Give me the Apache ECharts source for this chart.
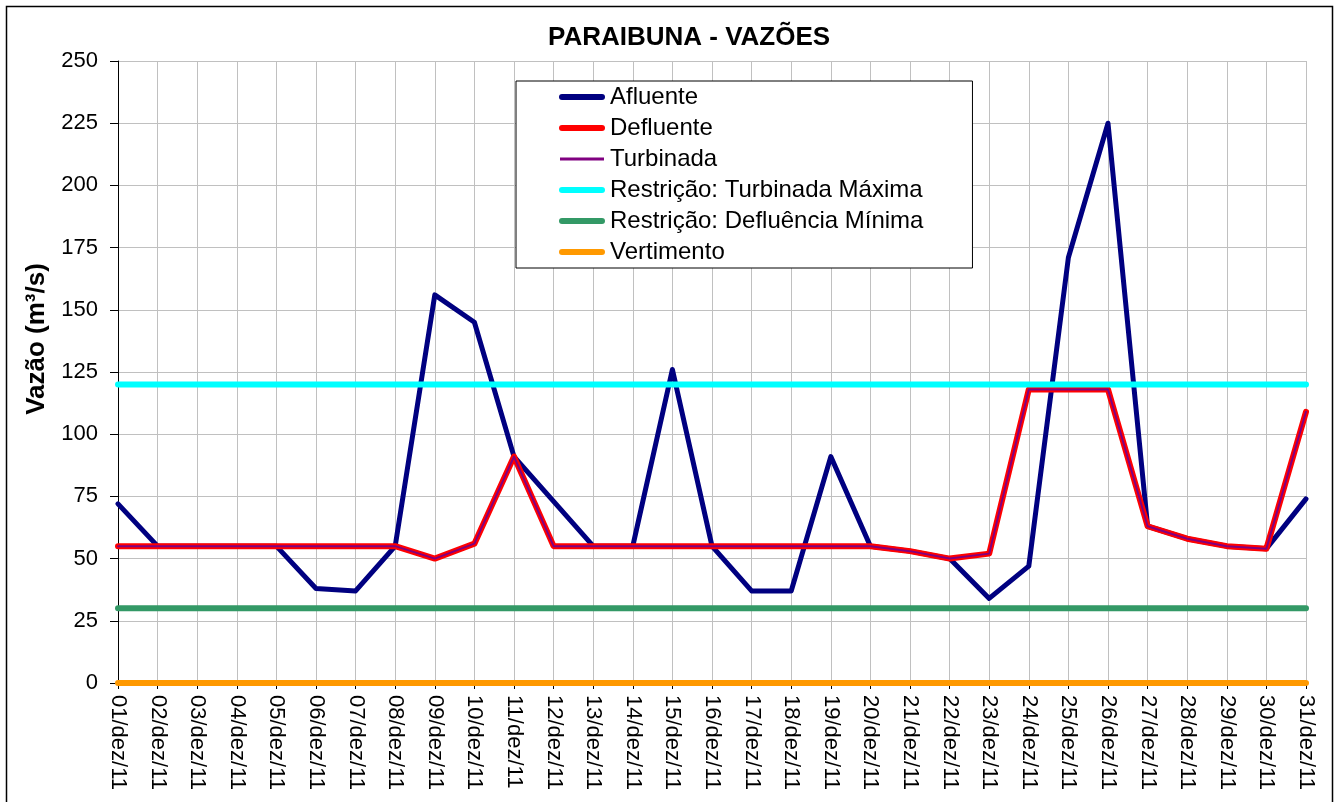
<!DOCTYPE html>
<html><head><meta charset="utf-8">
<script src="https://cdn.jsdelivr.net/npm/echarts@6/dist/echarts.min.js"></script>
<style>html,body{margin:0;padding:0;background:#fff}#c{width:1338px;height:802px}</style>
</head><body><div id="c"></div>
<script>
const categories = ["01/dez/11","02/dez/11","03/dez/11","04/dez/11","05/dez/11","06/dez/11","07/dez/11","08/dez/11","09/dez/11","10/dez/11","11/dez/11","12/dez/11","13/dez/11","14/dez/11","15/dez/11","16/dez/11","17/dez/11","18/dez/11","19/dez/11","20/dez/11","21/dez/11","22/dez/11","23/dez/11","24/dez/11","25/dez/11","26/dez/11","27/dez/11","28/dez/11","29/dez/11","30/dez/11","31/dez/11"];
const afluente = [72,55,55,55,55,38,37,55,156,145,91,73,55,55,126,55,37,37,91,55,53,50,34,47,171,225,63,58,55,54,74];
const defluente = [55,55,55,55,55,55,55,55,50,56,91,55,55,55,55,55,55,55,55,55,53,50,52,118,118,118,63,58,55,54,109];
const turbinada = [55,55,55,55,55,55,55,55,50,56,91,55,55,55,55,55,55,55,55,55,53,50,52,118,118,118,63,58,55,54,109];
const turbMax = [120,120,120,120,120,120,120,120,120,120,120,120,120,120,120,120,120,120,120,120,120,120,120,120,120,120,120,120,120,120,120];
const deflMin = [30,30,30,30,30,30,30,30,30,30,30,30,30,30,30,30,30,30,30,30,30,30,30,30,30,30,30,30,30,30,30];
const vertimento = [0,0,0,0,0,0,0,0,0,0,0,0,0,0,0,0,0,0,0,0,0,0,0,0,0,0,0,0,0,0,0];
const yTicks = {min:0, max:250, interval:25};

const FONT = "'Liberation Sans', Arial, sans-serif";
const THICK = 'path://M0,0M46,20M3,7L43,7A3,3,0,0,1,43,13L3,13A3,3,0,0,1,3,7Z';
const THIN = 'path://M0,0M46,20M1,8.5L45,8.5L45,11.5L1,11.5Z';
function ln(name, data, color, width){
  return {name, type:'line', data, symbol:'none', showSymbol:false, animation:false,
    lineStyle:{color, width, cap:'round', join:'round'}, itemStyle:{color}};
}
const chart = echarts.init(document.getElementById('c'), null, {renderer:'canvas'});
chart.setOption({
  animation:false,
  backgroundColor:'#fff',
  title:{text:'PARAIBUNA - VAZÕES', left:543, top:20,
    textStyle:{fontFamily:FONT, fontWeight:'bold', fontSize:26, color:'#000'}},
  graphic:[{type:'rect', shape:{x:6.5,y:6.5,width:1326,height:810}, style:{fill:null, stroke:'#000', lineWidth:1.5}, silent:true}],
  legend:{orient:'vertical', left:516, top:81, padding:[4,49,4,43],
    itemWidth:46, itemHeight:20, itemGap:7, backgroundColor:'#fff', borderColor:'#000', borderWidth:1,
    textStyle:{fontFamily:FONT, fontSize:24, color:'#000'},
    data:[
      {name:'Afluente', icon:THICK},
      {name:'Defluente', icon:THICK},
      {name:'Turbinada', icon:THIN},
      {name:'Restrição: Turbinada Máxima', icon:THICK},
      {name:'Restrição: Defluência Mínima', icon:THICK},
      {name:'Vertimento', icon:THICK}
    ]},
  grid:{left:118, right:32, top:61, bottom:119},
  xAxis:{type:'category', data:categories, boundaryGap:false,
    axisLine:{lineStyle:{color:'#000', width:1}},
    axisTick:{show:true, length:6, lineStyle:{color:'#000'}},
    axisLabel:{rotate:-90, margin:12, fontFamily:FONT, fontSize:22, color:'#000', interval:0},
    splitLine:{show:true, lineStyle:{color:'#c0c0c0', width:1}}},
  yAxis:{type:'value', min:yTicks.min, max:yTicks.max, interval:yTicks.interval,
    name:'Vazão (m³/s)', nameLocation:'middle', nameGap:68,
    nameTextStyle:{fontFamily:FONT, fontWeight:'bold', fontSize:26, color:'#000', padding:[0,0,0,66]},
    axisLine:{show:true, lineStyle:{color:'#000', width:1}},
    axisTick:{show:true, length:8, lineStyle:{color:'#000'}},
    axisLabel:{margin:20, fontFamily:FONT, fontSize:22, color:'#000'},
    splitLine:{show:true, lineStyle:{color:'#c0c0c0', width:1}}},
  series:[
    ln('Afluente', afluente, '#000080', 5),
    ln('Defluente', defluente, '#ff0000', 6),
    ln('Turbinada', turbinada, '#800080', 2),
    ln('Restrição: Turbinada Máxima', turbMax, '#00ffff', 6),
    ln('Restrição: Defluência Mínima', deflMin, '#339966', 6),
    ln('Vertimento', vertimento, '#ff9900', 6)
  ]
});
</script></body></html>
